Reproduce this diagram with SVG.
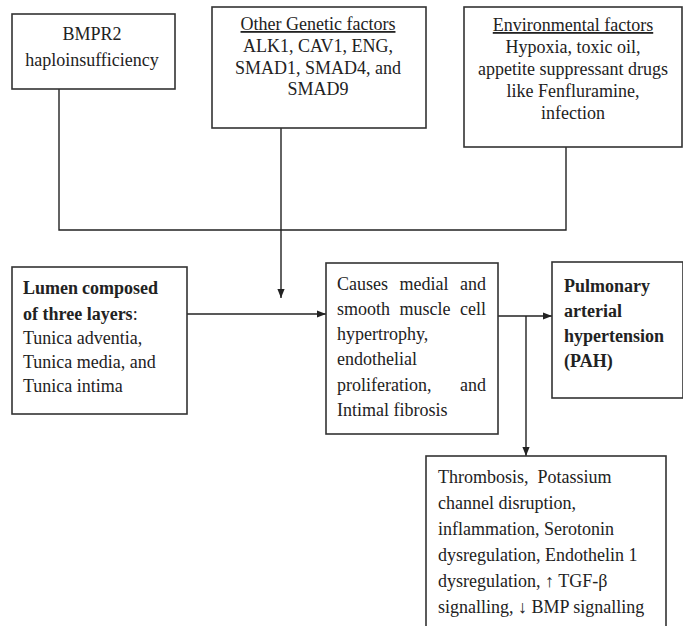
<svg xmlns="http://www.w3.org/2000/svg" width="683" height="626" viewBox="0 0 683 626">
<style>
.box{fill:#fff;stroke:#333;stroke-width:1.6}
.ln{fill:none;stroke:#222;stroke-width:1.4}
text{font-family:"Liberation Serif","Times New Roman",serif;font-size:18px;fill:#222}
.c{text-anchor:middle}
.e{text-anchor:end}
.b{font-weight:bold}
.u{text-decoration:underline}
</style>
<defs>
<marker id="ah" viewBox="0 0 10 10" refX="10" refY="5" markerWidth="9" markerHeight="9" markerUnits="userSpaceOnUse" orient="auto">
<path d="M0,1 L10,5 L0,9 z" fill="#222"/>
</marker>
</defs>
<rect width="683" height="626" fill="#fff"/>
<g id="connectors">
<polyline class="ln" points="59,89 59,230 566,230 566,147"/>
<line class="ln" x1="281" y1="128" x2="281" y2="298" marker-end="url(#ah)"/>
<line class="ln" x1="187" y1="314" x2="326" y2="314" marker-end="url(#ah)"/>
<line class="ln" x1="498" y1="316" x2="552" y2="316" marker-end="url(#ah)"/>
<line class="ln" x1="526" y1="316" x2="526" y2="456" marker-end="url(#ah)"/>
</g>
<g id="bmpr2">
<rect class="box" x="12" y="14" width="163" height="75"/>
<text class="c" x="92" y="40">BMPR2</text>
<text class="c" x="92" y="66">haploinsufficiency</text>
</g>
<g id="genetic">
<rect class="box" x="212" y="7" width="214" height="121"/>
<text class="c u" x="318" y="30">Other Genetic factors</text>
<text class="c" x="318" y="52">ALK1, CAV1, ENG,</text>
<text class="c" x="318" y="74">SMAD1, SMAD4, and</text>
<text class="c" x="318" y="95">SMAD9</text>
</g>
<g id="environmental">
<rect class="box" x="464" y="7" width="218" height="140"/>
<text class="c u" x="573" y="31">Environmental factors</text>
<text class="c" x="573" y="53">Hypoxia, toxic oil,</text>
<text class="c" x="573" y="75">appetite suppressant drugs</text>
<text class="c" x="573" y="97">like Fenfluramine,</text>
<text class="c" x="573" y="119">infection</text>
</g>
<g id="lumen">
<rect class="box" x="12" y="267" width="175" height="147"/>
<text class="b" x="23" y="294">Lumen</text>
<text class="b e" x="158" y="294">composed</text>
<text x="23" y="320"><tspan class="b">of three layers</tspan>:</text>
<text x="23" y="344">Tunica adventia,</text>
<text x="23" y="368">Tunica media, and</text>
<text x="23" y="392">Tunica intima</text>
</g>
<g id="causes">
<rect class="box" x="326" y="263" width="172" height="171"/>
<text x="337" y="290">Causes</text>
<text class="c" x="424" y="290">medial</text>
<text class="e" x="486" y="290">and</text>
<text x="337" y="315">smooth</text>
<text class="c" x="425" y="315">muscle</text>
<text class="e" x="486" y="315">cell</text>
<text x="337" y="340">hypertrophy,</text>
<text x="337" y="365">endothelial</text>
<text x="337" y="391">proliferation,</text>
<text class="e" x="486" y="391">and</text>
<text x="337" y="416">Intimal fibrosis</text>
</g>
<g id="pah">
<rect class="box" x="552" y="262" width="131" height="136"/>
<text class="b" x="564" y="292">Pulmonary</text>
<text class="b" x="564" y="317">arterial</text>
<text class="b" x="564" y="342">hypertension</text>
<text class="b" x="564" y="367">(PAH)</text>
</g>
<g id="mechanisms">
<rect class="box" x="426" y="456" width="240" height="175"/>
<text x="438" y="483" xml:space="preserve">Thrombosis,  Potassium</text>
<text x="438" y="509">channel disruption,</text>
<text x="438" y="535">inflammation, Serotonin</text>
<text x="438" y="561">dysregulation, Endothelin 1</text>
<text x="438" y="587">dysregulation, ↑ TGF-β</text>
<text x="438" y="613">signalling, ↓ BMP signalling</text>
</g>
</svg>
